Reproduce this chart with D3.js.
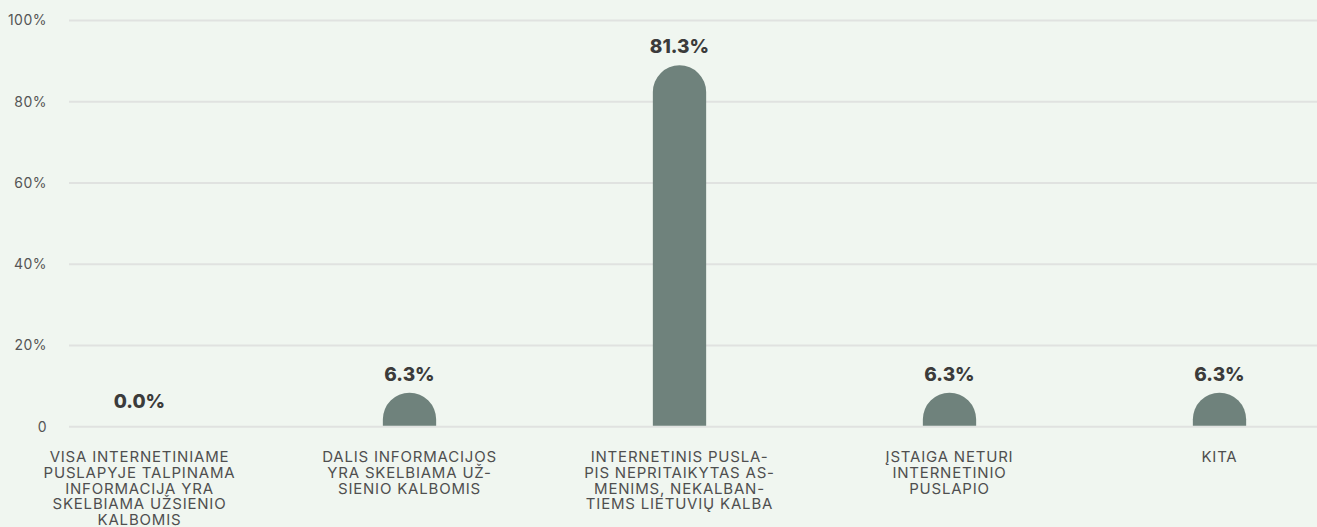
<!DOCTYPE html>
<html>
<head>
<meta charset="utf-8">
<script src="https://cdn.jsdelivr.net/npm/d3@7"></script>
<style>
    html, body { margin: 0; padding: 0; background: #f0f6f0; }
    svg { display: block; font-family: Inter, "Open Sans", sans-serif; }
</style>
</head>
<body>
<div id="chart"></div>
<script>
// categories, split into the lines shown under each bar
const categories = [
    ['VISA INTERNETINIAME', 'PUSLAPYJE TALPINAMA', 'INFORMACIJA YRA', 'SKELBIAMA UŽSIENIO', 'KALBOMIS'],
    ['DALIS INFORMACIJOS', 'YRA SKELBIAMA UŽ-', 'SIENIO KALBOMIS'],
    ['INTERNETINIS PUSLA-', 'PIS NEPRITAIKYTAS AS-', 'MENIMS, NEKALBAN-', 'TIEMS LIETUVIŲ KALBA'],
    ['ĮSTAIGA NETURI', 'INTERNETINIO', 'PUSLAPIO'],
    ['KITA']
];
const values = [0.0, 6.3, 81.3, 6.3, 6.3];
const yTicks = [0, 20, 40, 60, 80, 100];
const yTickLabels = ['0', '20%', '40%', '60%', '80%', '100%'];

const width = 1317;
const height = 527;
const margin = { top: 20.5, right: 0, bottom: 100, left: 69 };

const svg = d3.select('#chart')
    .append('svg')
    .attr('width', width)
    .attr('height', height);

svg.append('rect')
    .attr('width', width)
    .attr('height', height)
    .attr('fill', '#f0f6f0');

const y = d3.scaleLinear()
    .domain([0, 100])
    .range([height - margin.bottom - 0.3, margin.top]);

// bars in the original sit on a slightly different scale than the grid
const yBar = d3.scaleLinear()
    .domain([0, 100])
    .range([y(0) - 6.5, y(0) - 6.5 - 436.5]);

const idx = categories.map((d, i) => i);
const x = d3.scalePoint()
    .domain(idx)
    .range([139.5, 1219.5]);

const barWidth = 53.3;
const r = barWidth / 2;

// grid lines + y labels
const grid = svg.append('g').attr('class', 'grid');
yTicks.forEach((t, i) => {
    grid.append('line')
        .attr('x1', margin.left)
        .attr('x2', width)
        .attr('y1', y(t))
        .attr('y2', y(t))
        .attr('stroke', '#e0e2e0')
        .attr('stroke-width', 2);
    grid.append('text')
        .attr('x', 47)
        .attr('y', y(t))
        .attr('dy', '0.35em')
        .attr('text-anchor', 'end')
        .style('font-size', '14px')
        .style('letter-spacing', '0.5px')
        .style('fill', '#555')
        .text(yTickLabels[i]);
});

// bars with a rounded top
function barPath(cx, top, base) {
    const left = cx - r;
    const right = cx + r;
    if (base - top <= r) {
        // only part of the cap shows
        const h = base - top;
        const dx = Math.sqrt(Math.max(0, r * r - (r - h) * (r - h)));
        return `M${cx - dx},${base} A${r},${r} 0 0 1 ${cx + dx},${base} Z`;
    }
    return `M${left},${base} L${left},${top + r} A${r},${r} 0 0 1 ${right},${top + r} L${right},${base} Z`;
}

const bars = svg.append('g').attr('class', 'bars');
values.forEach((v, i) => {
    if (v > 0) {
        bars.append('path')
            .attr('d', barPath(x(i), yBar(v), y(0) - 1))
            .attr('fill', '#6f827c');
    }
    bars.append('text')
        .attr('x', x(i))
        .attr('y', yBar(v) - 12)
        .attr('text-anchor', 'middle')
        .style('font-size', '19px')
        .style('font-weight', '800')
        .style('fill', '#3b3b3b')
        .text(v.toFixed(1) + '%');
});

// category labels
const labels = svg.append('g').attr('class', 'x-labels');
categories.forEach((lines, i) => {
    const t = labels.append('text')
        .attr('x', x(i))
        .attr('y', 462)
        .attr('text-anchor', 'middle')
        .style('font-size', '15px')
        .style('letter-spacing', '0.8px')
        .style('fill', '#4f4f4f');
    lines.forEach((line, j) => {
        t.append('tspan')
            .attr('x', x(i))
            .attr('y', 462 + j * 15.8)
            .text(line);
    });
});
</script>
</body>
</html>
